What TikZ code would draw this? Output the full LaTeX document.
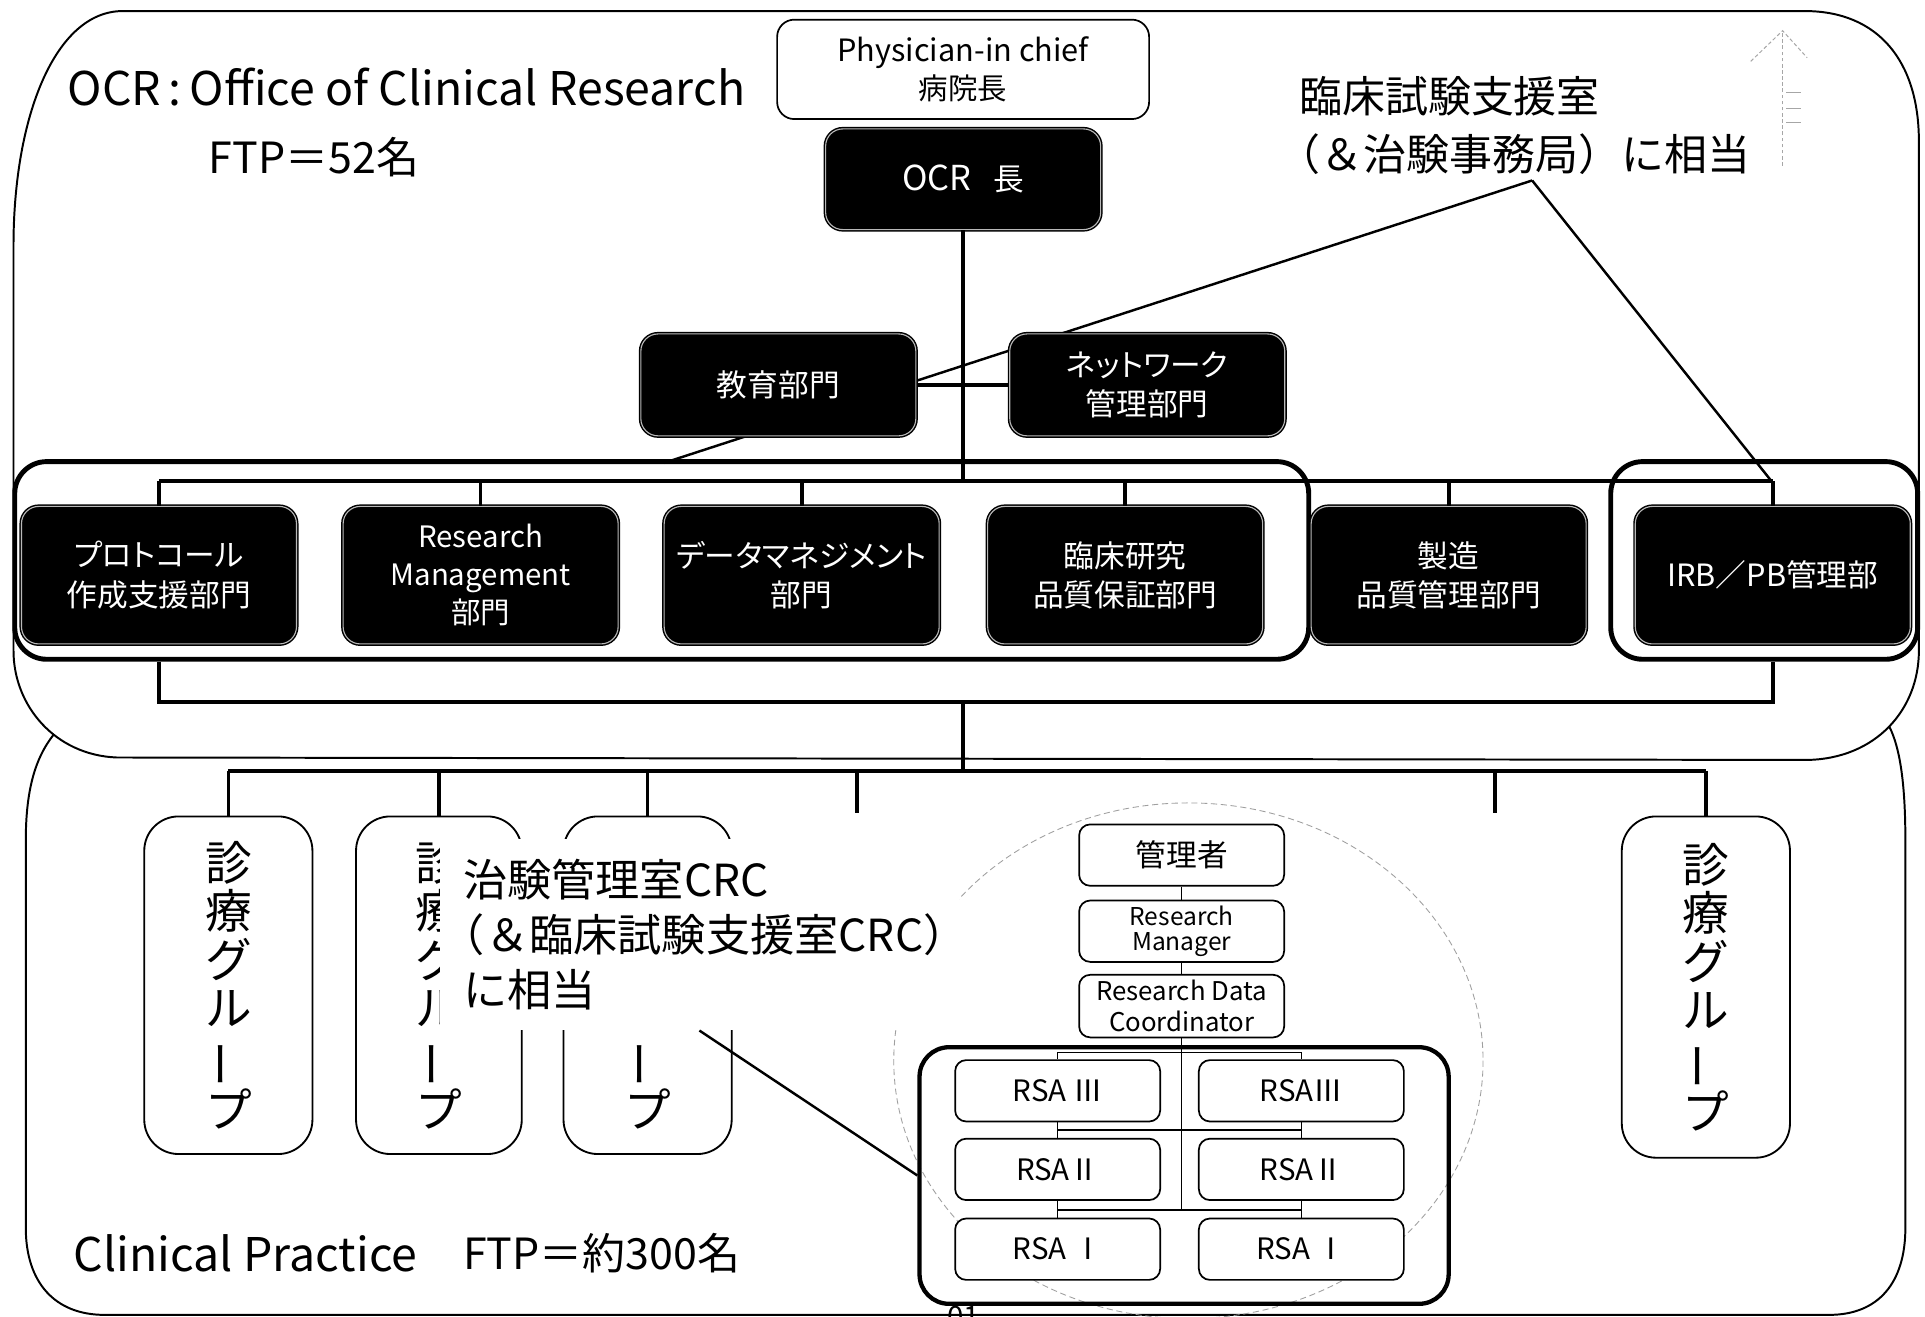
\documentclass[tikz,border=0pt]{standalone}
\usepackage{fontspec}
\usepackage{graphicx}
\setmainfont{Noto Sans CJK JP}
\newfontfamily\jpp[RawFeature=+palt]{Noto Sans CJK JP}
\usetikzlibrary{calc}
\newcommand{\fsz}[2]{\fontsize{#1pt}{#2pt}\selectfont}
\newcommand{\vbar}{\rotatebox[origin=c]{90}{ー}}

\begin{document}
\begin{tikzpicture}[x=1pt,y=-1pt,
  region/.style={line width=1.6pt},
  conn/.style={line width=3pt},
  thinconn/.style={line width=1pt},
  leader/.style={line width=2pt},
  bracket/.style={draw, line width=4pt, rounded corners=26pt, inner sep=0pt},
  blackbox/.style={draw=black, fill=black, line width=1.2pt, double=gray!55,
    double distance=0.9pt, rounded corners=14pt, text=white, align=center,
    inner sep=2pt, minimum width=224pt, minimum height=112pt,
    font=\jpp\fsz{25}{32}},
  topbox/.style={blackbox, minimum height=82pt},
  whitebox/.style={draw, fill=white, line width=1.4pt, rounded corners=9pt,
    align=center, inner sep=1pt, minimum width=167pt, minimum height=50pt},
  groupbox/.style={draw, fill=white, line width=1.5pt, rounded corners=28pt,
    align=center, inner sep=0pt, minimum width=137pt, minimum height=275pt,
    font=\fsz{38}{39.5}},
  title/.style={anchor=base west, inner sep=0pt, font=\fsz{37.8}{46}},
  count/.style={anchor=base west, inner sep=0pt, font=\fsz{35}{44}},
  note/.style={anchor=base west, inner sep=0pt, font=\fsz{35}{47}},
  faint/.style={gray!70, line width=0.8pt, densely dashed}]

\fill[white] (0,0) rectangle (1568,1072);
\useasboundingbox (0,0) rectangle (1568,1072);
\clip (0,0) rectangle (1568,1072);

% ---------- the two regions ----------
\draw[region] (100,9) -- (1470,9) .. controls (1530,9) and (1563,50) .. (1563,115)
  -- (1563,530) .. controls (1563,578) and (1528,618) .. (1472,619)
  -- (95,617) .. controls (45,615) and (11,575) .. (11,530)
  -- (11,200) .. controls (11,95) and (45,9) .. (100,9) -- cycle;
\draw[region] (44,598) .. controls (28,618) and (21,645) .. (21,685)
  -- (21,1000) .. controls (21,1045) and (45,1071) .. (85,1071)
  -- (1490,1071) .. controls (1530,1071) and (1552,1045) .. (1552,1000)
  -- (1552,685) .. controls (1552,640) and (1548,610) .. (1539,592);

% ---------- titles ----------
\node[title] (ttl) at (55,86) {OCR\,:\,Office of Clinical Research};
\node[count] (ftp1) at (170,141) {FTP＝52名};
\node[note] (n1a) at (1058,92) {臨床試験支援室};
\node[note] (n1b) at (1058,139) {\hspace*{-0.5em}（＆治験事務局）に相当};
\node[title] (cp) at (60,1036) {Clinical Practice};
\node[count] (ftp2) at (377,1034) {FTP＝約300名};

% faint pencil mark in the upper right corner
\coordinate (mk) at (1452,25);
\draw[faint] (1452,135) -- (mk);
\draw[faint] (1426,50) -- (mk) -- (1472,47);
\foreach \yy in {75,88,100} \draw[gray!70, line width=0.8pt] (1455,\yy) -- (1467,\yy);

% ---------- leaders from the upper note ----------
\coordinate (ldr) at (1248,147);
\draw[leader] (ldr) -- (541,377);
\draw[leader] (ldr) -- (1443,392);

% ---------- upper hierarchy ----------
\node[draw, fill=white, line width=1.4pt, rounded corners=14pt, minimum width=303pt,
  minimum height=81pt, align=center, inner sep=0pt, font=\fsz{25}{31}]
  (chief) at (784.5,56.5) {Physician-in chief\\{\fsz{24}{31}病院長}};
\node[topbox] (ocr) at (784.5,146) {{\fsz{28}{32}OCR}\hspace{0.7em}長};
\node[topbox, minimum height=83pt] (edu) at (634,313.5) {教育部門};
\node[topbox, minimum height=83pt] (net) at (934.5,313.5) {ネットワーク\\管理部門};

\coordinate (bus) at (784.5,392);
\draw[conn] (ocr.south) -- (bus);
\draw[conn] (edu.east) -- (net.west);

% ---------- departments ----------
\node[bracket, minimum width=1054pt, minimum height=161pt] (brA) at (539,456.5) {};
\node[bracket, minimum width=250pt, minimum height=161pt] (brB) at (1437,456.5) {};

\node[blackbox] (d1) at (129.5,468.5) {プロトコール\\作成支援部門};
\node[blackbox, font=\jpp\fsz{24}{31}] (d2) at (391.5,468.5) {Research\\Management\\部門};
\node[blackbox] (d3) at (653,468.5) {データマネジメント\\部門};
\node[blackbox] (d4) at (916.5,468.5) {臨床研究\\品質保証部門};
\node[blackbox] (d5) at (1180,468.5) {製造\\品質管理部門};
\node[blackbox] (d6) at (1444,468.5) {IRB／PB管理部};

\draw[conn] (d1.north |- bus) -- (d6.north |- bus);
\foreach \d in {d1,d2,d3,d4,d5,d6} \draw[conn] (\d.north |- bus) -- (\d.north);

\coordinate (low) at (784.5,572);
\draw[conn] (brA.south -| d1) -- (d1 |- low) -- (d6 |- low) -- (brB.south -| d6);

% ---------- clinical practice ----------
\coordinate (cbus) at (784.5,628);
\draw[conn] (low) -- (cbus);

\node[groupbox] (g1) at (186,802.5) {診\\療\\グ\\ル\\\vbar\\プ};
\node[groupbox, minimum width=135pt] (g2) at (357.5,802.5) {診\\療\\グ\\ル\\\vbar\\プ};
% only the lower end of this column shows below the CRC note
\node[groupbox] (g3) at (527.5,802.5) {\phantom{診}\\\phantom{療}\\\phantom{グ}\\\phantom{ル}\\\vbar\\プ};
\node[groupbox, minimum height=278pt] (g4) at (1389.5,804) {診\\療\\グ\\ル\\\vbar\\プ};

\draw[conn] (g1.north |- cbus) -- (g4.north |- cbus);
\foreach \g in {g1,g2,g3,g4} \draw[conn] (\g.north |- cbus) -- (\g.north);
\coordinate (e1) at (698,662);
\coordinate (e2) at (1218,662);
\draw[conn] (e1 |- cbus) -- (e1);
\draw[conn] (e2 |- cbus) -- (e2);

% ---------- research staff ----------
\draw[gray!75, line width=0.7pt, dash pattern=on 5pt off 3pt] (968,864) ellipse [x radius=240, y radius=210];

\node[whitebox, font=\fsz{25}{30}] (mgr) at (962.5,696.5) {管理者};
\node[whitebox, font=\fsz{20}{21}] (rm) at (962.5,758.5) {Research\\Manager};
\node[whitebox, minimum height=51pt, font=\fsz{21}{25}] (rdc) at (962.5,819.5) {Research Data\\Coordinator};
\node[bracket, line width=3.5pt, rounded corners=24pt, minimum width=431pt, minimum height=209pt]
  (rsab) at (964.5,957.5) {};

\tikzset{rsa/.style={whitebox, font=\fsz{24}{28}}}
\node[rsa] (r3l) at (861.5,888.5) {RSA Ⅲ};
\node[rsa] (r3r) at (1060,888.5) {RSAⅢ};
\node[rsa] (r2l) at (861.5,952.5) {RSAⅡ};
\node[rsa] (r2r) at (1060,952.5) {RSAⅡ};
\node[rsa] (r1l) at (861.5,1017.5) {RSA Ⅰ};
\node[rsa] (r1r) at (1060,1017.5) {RSA Ⅰ};

\draw[thinconn] (mgr) -- (rm);
\draw[thinconn] (rm) -- (rdc);
\draw[thinconn] (rdc.south) -- (rdc.south |- 0,985.5);
\foreach \yy/\dn in {857/3, 920.5/2, 985.5/1} {
  \draw[thinconn] (r\dn l.north |- 0,\yy) -- (r\dn r.north |- 0,\yy);
  \draw[thinconn] (r\dn l.north |- 0,\yy) -- (r\dn l.north);
  \draw[thinconn] (r\dn r.north |- 0,\yy) -- (r\dn r.north);
}
\draw[thinconn] (r3l) -- (r2l);
\draw[thinconn] (r2l) -- (r1l);
\draw[thinconn] (r3r) -- (r2r);
\draw[thinconn] (r2r) -- (r1r);

% ---------- CRC note ----------
\node[fill=white, anchor=north west, text width=385pt, minimum height=156pt,
  inner xsep=19pt, inner ysep=0pt, align=left, font=\fsz{36}{45}]
  (crc) at (358,683) {治験管理室CRC\\\hspace*{-0.5em}（＆臨床試験支援室CRC）\\に相当};
\draw[leader] (crc.south) -- (rsab.west);

% page number at the lower edge
\node[font=\fsz{24}{28}, anchor=north, inner sep=0pt] (pg) at (785,1064) {01};

\end{tikzpicture}
\end{document}
